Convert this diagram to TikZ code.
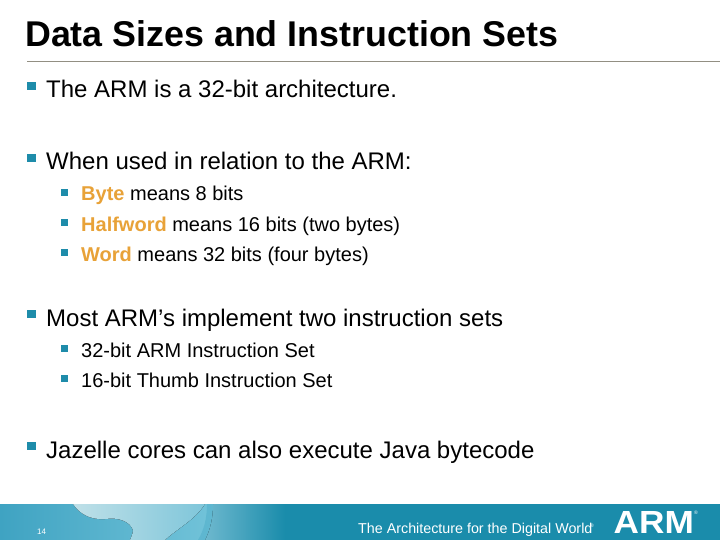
\documentclass[tikz,border=0pt]{standalone}
\usepackage{fontspec}
\setmainfont{Liberation Sans}
\usepackage{xcolor}
\usetikzlibrary{calc}

\definecolor{armteal}{HTML}{1A8CAB}
\definecolor{armbullet}{HTML}{1E8CAA}
\definecolor{armorange}{HTML}{E8A238}
\definecolor{armrule}{HTML}{928F83}
\definecolor{armsea}{HTML}{3FA3C2}
\definecolor{armseamid}{HTML}{72C3D9}
\definecolor{armland}{HTML}{BFE0E8}
\definecolor{armlandend}{HTML}{7FC6DA}
\definecolor{armedge}{HTML}{6DB8CE}

\tikzset{
    headtext/.style={anchor=base west,inner sep=0pt,font=\fontsize{35.8}{36}\selectfont\bfseries},
    itemtext/.style={anchor=base west,inner sep=0pt,font=\fontsize{24}{24}\selectfont},
    subtext/.style={anchor=base west,inner sep=0pt,font=\fontsize{20}{20}\selectfont},
    itembox/.style={fill=armbullet,minimum size=8.5pt,inner sep=0pt,anchor=south west},
    subbox/.style={fill=armbullet,minimum size=7pt,inner sep=0pt,anchor=south west},
}

\begin{document}
\begin{tikzpicture}[x=1pt,y=-1pt]

    % Границы страницы
    \useasboundingbox (0,0) rectangle (720,540);
    \fill[white] (0,0) rectangle (720,540);

    % Заголовок
    \node[headtext] (title) at (25,46.5) {Data Sizes and Instruction Sets};
    \fill[armrule] (27,61) rectangle (720,62.5);

    % Пункты первого уровня
    \node[itembox] (b1) at (27,90.5) {};
    \node[itemtext] (t1) at (46,98) {The ARM is a 32-bit architecture.};
    \node[itembox] (b2) at (27,162.5) {};
    \node[itemtext] (t2) at (46,170) {When used in relation to the ARM:};
    \node[itembox] (b3) at (27,318.5) {};
    \node[itemtext] (t3) at (46,326) {Most ARM’s implement two instruction sets};
    \node[itembox] (b4) at (27,450.5) {};
    \node[itemtext] (t4) at (46,458) {Jazelle cores can also execute Java bytecode};

    % Пункты второго уровня
    \node[subbox] (s1) at (61,196) {};
    \node[subtext] (u1) at (81,201) {\textcolor{armorange}{\bfseries Byte} means 8 bits};
    \node[subbox] (s2) at (61,226) {};
    \node[subtext] (u2) at (81,231) {\textcolor{armorange}{\bfseries Halfword} means 16 bits (two bytes)};
    \node[subbox] (s3) at (61,256) {};
    \node[subtext] (u3) at (81,261) {\textcolor{armorange}{\bfseries Word} means 32 bits (four bytes)};
    \node[subbox] (s4) at (61,352) {};
    \node[subtext] (u4) at (81,357) {32-bit ARM Instruction Set};
    \node[subbox] (s5) at (61,382) {};
    \node[subtext] (u5) at (81,387) {16-bit Thumb Instruction Set};

    % Нижняя полоса с глобусом
    \fill[armteal] (0,504) rectangle (720,540);
    \fill[left color=armedge,right color=armteal] (205,504) rectangle (285,540);
    \begin{scope}
        \clip (0,504) rectangle (720,540);
        \fill[left color=armsea,right color=armseamid]
            (0,504) -- (213,504) .. controls (213,518) and (210,530) .. (205,540) -- (0,540) -- cycle;
        \fill[left color=armland,right color=armlandend]
            (73,504) .. controls (80,514) and (90,520) .. (105,519)
            .. controls (120,517) and (130,522) .. (133,530)
            .. controls (133,534) and (131,537) .. (130,540)
            -- (165,540) .. controls (178,528) and (195,520) .. (205,504) -- cycle;
        \fill[armsea,opacity=0.35]
            (205,540) .. controls (210,530) and (213,518) .. (213,504)
            -- (207,504) .. controls (207,518) and (204,530) .. (198,540) -- cycle;
    \end{scope}

    % Подписи в полосе
    \node[anchor=base west,inner sep=0pt,text=white,font=\fontsize{8}{8}\selectfont] (page) at (37,534) {14};
    \node[anchor=base west,inner sep=0pt,text=white,font=\fontsize{14.3}{14.3}\selectfont] (slogan) at (358,533) {The Architecture for the Digital World};
    \node[anchor=base west,inner sep=0pt,text=white,font=\fontsize{5}{5}\selectfont] (sloganreg) at (590,527) {®};
    \node[anchor=base west,inner sep=0pt,text=white,xscale=1.1,font=\fontsize{32}{32}\selectfont\bfseries] (logo) at (613.5,533) {ARM};
    \node[anchor=base west,inner sep=0pt,text=white,font=\fontsize{5}{5}\selectfont] (reg) at (694,514) {®};

\end{tikzpicture}
\end{document}
